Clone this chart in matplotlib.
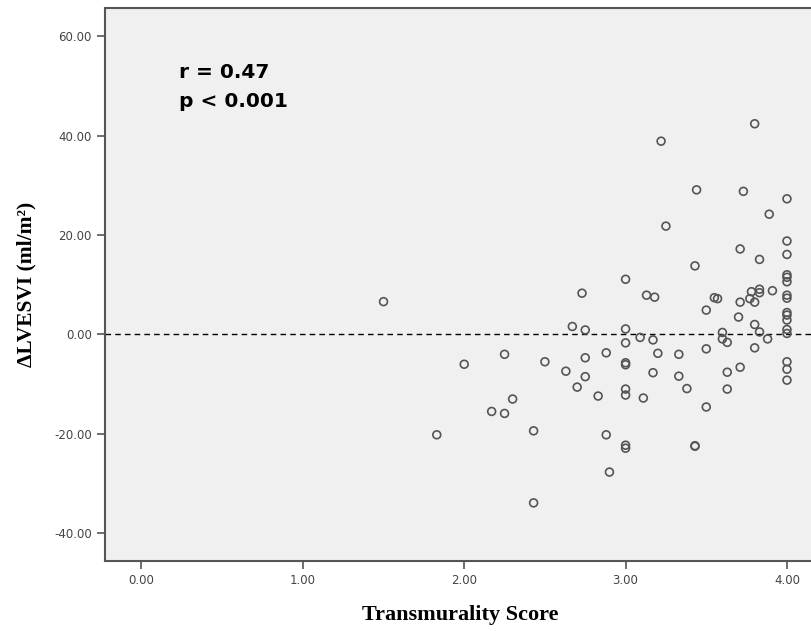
import matplotlib
matplotlib.use("Agg")
import matplotlib.pyplot as plt
from matplotlib.ticker import FormatStrFormatter

# transmurality score vs change in LVESVI
score = [1.50, 1.83, 2.00, 2.17, 2.25, 2.25, 2.30, 2.43, 2.43, 2.50,
         2.63, 2.67, 2.70, 2.73, 2.75, 2.75, 2.75, 2.83, 2.88, 2.88, 2.90,
         3.00, 3.00, 3.00, 3.00, 3.00, 3.00, 3.00, 3.00, 3.00,
         3.09, 3.11, 3.13, 3.17, 3.17, 3.18, 3.20, 3.22, 3.25,
         3.33, 3.33, 3.38, 3.43, 3.43, 3.43, 3.44,
         3.50, 3.50, 3.50, 3.55, 3.57, 3.60, 3.60, 3.63, 3.63, 3.63,
         3.70, 3.71, 3.71, 3.71, 3.73, 3.77, 3.78,
         3.80, 3.80, 3.80, 3.80, 3.83, 3.83, 3.83, 3.83, 3.88, 3.89, 3.91,
         4.00, 4.00, 4.00, 4.00, 4.00, 4.00, 4.00, 4.00,
         4.00, 4.00, 4.00, 4.00, 4.00, 4.00, 4.00, 4.00]
delta_lvesvi = [6.6, -20.2, -6.0, -15.5, -15.9, -4.0, -13.0, -19.4, -33.9, -5.5,
                -7.4, 1.6, -10.6, 8.3, 0.9, -4.7, -8.5, -12.4, -3.7, -20.2, -27.7,
                11.1, 1.1, -1.7, -5.7, -6.1, -11.0, -12.2, -22.3, -22.9,
                -0.6, -12.8, 7.9, -1.1, -7.7, 7.5, -3.8, 38.9, 21.8,
                -4.0, -8.4, -10.9, 13.8, -22.4, -22.5, 29.1,
                4.9, -2.9, -14.6, 7.4, 7.2, 0.4, -0.9, -1.6, -7.6, -11.0,
                3.5, 17.2, 6.5, -6.6, 28.8, 7.2, 8.6,
                42.4, 6.5, 2.0, -2.7, 15.1, 9.1, 8.4, 0.5, -0.9, 24.2, 8.8,
                27.3, 18.8, 16.1, 12.0, 11.5, 10.6, 7.9, 7.3,
                4.4, 3.9, 2.9, 1.0, 0.2, -5.5, -7.0, -9.2]

x_ticks = [0, 1, 2, 3, 4]
y_ticks = [-40, -20, 0, 20, 40, 60]

fig = plt.figure(figsize=(8.12, 6.31), dpi=100)
ax = fig.add_axes([105 / 812, 70 / 631, 711 / 812, 553 / 631])
ax.set_facecolor("#f0f0f0")

ax.scatter(score, delta_lvesvi, s=32, facecolors="none",
           edgecolors="#555555", linewidths=1.2, zorder=3)
ax.axhline(0, color="black", linestyle=(0, (4, 3)), linewidth=1, zorder=2)

ax.set_xlim(-0.226, 4.18)
ax.set_ylim(-45.6, 65.7)
ax.set_xticks(x_ticks)
ax.set_yticks(y_ticks)
ax.xaxis.set_major_formatter(FormatStrFormatter("%.2f"))
ax.yaxis.set_major_formatter(FormatStrFormatter("%.2f"))
ax.tick_params(direction="out", length=6, width=1.2, color="#555555",
               labelsize=8.5, labelcolor="#444444")
for sp in ax.spines.values():
    sp.set_color("#555555")
    sp.set_linewidth(1.5)

ax.set_xlabel("Transmurality Score", family="Liberation Serif",
              fontweight="bold", fontsize=16, labelpad=13)
ax.set_ylabel("\u0394LVESVI (ml/m\u00b2)", family="Liberation Serif",
              fontweight="bold", fontsize=15.5, labelpad=13)

ax.text(0.232, 54.6, "r = 0.47", family="DejaVu Sans", fontweight="bold",
        fontsize=14.5, va="top")
ax.text(0.232, 48.8, "p < 0.001", family="DejaVu Sans", fontweight="bold",
        fontsize=14.5, va="top")

fig.savefig("out.png", dpi=100)
